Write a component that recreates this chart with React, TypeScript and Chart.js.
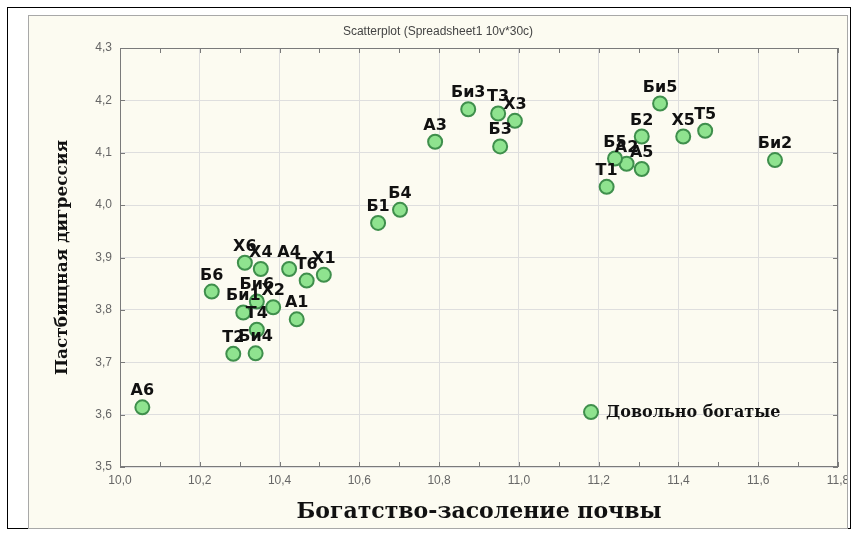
import React, { useEffect, useRef } from "react";
import { Chart, registerables } from "chart.js";

Chart.register(...registerables);

const caseLabels = [
  "А1", "А2", "А3", "А4", "А5", "А6",
  "Б1", "Б2", "Б3", "Б4", "Б5", "Б6",
  "Би1", "Би2", "Би3", "Би4", "Би5", "Би6",
  "Т1", "Т2", "Т3", "Т4", "Т5", "Т6",
  "Х1", "Х2", "Х3", "Х4", "Х5", "Х6",
];

const soilRichness = [
  10.443, 11.270, 10.790, 10.424, 11.308, 10.056,
  10.647, 11.308, 10.953, 10.702, 11.241, 10.230,
  10.309, 11.642, 10.873, 10.340, 11.354, 10.343,
  11.220, 10.284, 10.948, 10.343, 11.467, 10.468,
  10.511, 10.384, 10.990, 10.353, 11.412, 10.313,
];

const pastureDigression = [
  3.782, 4.079, 4.121, 3.878, 4.069, 3.614,
  3.966, 4.131, 4.112, 3.991, 4.089, 3.835,
  3.795, 4.086, 4.183, 3.717, 4.194, 3.816,
  4.035, 3.716, 4.175, 3.762, 4.142, 3.856,
  3.867, 3.805, 4.161, 3.878, 4.131, 3.890,
];

const seriesName = "Довольно богатые";
const chartTitle = "Scatterplot (Spreadsheet1 10v*30c)";
const xTitle = "Богатство-засоление почвы";
const yTitle = "Пастбищная дигрессия";

const POINT_FILL = "#8fe38f";
const POINT_BORDER = "#3f8f4c";
const SERIF = "'DejaVu Serif', 'Liberation Serif', serif";
const SANS = "'Liberation Sans', Arial, sans-serif";
const LABEL_FONT = "bold 16px 'DejaVu Sans', 'Liberation Sans', sans-serif";

const fmt = (v: number) => v.toFixed(1).replace(".", ",");

const framePlugin = {
  id: "frame",
  afterDatasetsDraw(chart: any) {
    const { ctx, chartArea: a, scales } = chart;
    const xs = scales.x;
    const ys = scales.y;
    ctx.save();
    ctx.strokeStyle = "#7a7a7a";
    ctx.lineWidth = 1;
    ctx.strokeRect(a.left + 0.5, a.top + 0.5, a.right - a.left - 1, a.bottom - a.top - 1);
    ctx.beginPath();
    for (let i = 0; i <= 18; i++) {
      const v = xs.min + i * 0.1;
      const px = Math.round(xs.getPixelForValue(v)) + 0.5;
      ctx.moveTo(px, a.top);
      ctx.lineTo(px, a.top + 5);
      ctx.moveTo(px, a.bottom);
      ctx.lineTo(px, a.bottom - 5);
    }
    for (let i = 0; i <= 8; i++) {
      const v = ys.min + i * 0.1;
      const py = Math.round(ys.getPixelForValue(v)) + 0.5;
      ctx.moveTo(a.left, py);
      ctx.lineTo(a.left + 5, py);
      ctx.moveTo(a.right, py);
      ctx.lineTo(a.right - 5, py);
    }
    ctx.stroke();
    ctx.restore();
  },
};

const labelPlugin = {
  id: "pointLabels",
  afterDatasetsDraw(chart: any) {
    const { ctx } = chart;
    const meta = chart.getDatasetMeta(0);
    ctx.save();
    ctx.font = LABEL_FONT;
    ctx.fillStyle = "#111";
    ctx.textAlign = "center";
    ctx.textBaseline = "alphabetic";
    meta.data.forEach((el: any, i: number) => {
      ctx.fillText(caseLabels[i], el.x, el.y - 12);
    });
    ctx.restore();
  },
};

const legendPlugin = {
  id: "innerLegend",
  afterDraw(chart: any) {
    const { ctx, chartArea: a } = chart;
    const cx = a.left + 0.656 * (a.right - a.left);
    const cy = a.top + 0.869 * (a.bottom - a.top);
    ctx.save();
    ctx.beginPath();
    ctx.arc(cx, cy, 7, 0, Math.PI * 2);
    ctx.fillStyle = POINT_FILL;
    ctx.fill();
    ctx.lineWidth = 2;
    ctx.strokeStyle = POINT_BORDER;
    ctx.stroke();
    ctx.font = "bold 16px " + SERIF;
    ctx.fillStyle = "#111";
    ctx.textAlign = "left";
    ctx.textBaseline = "middle";
    ctx.fillText(seriesName, cx + 15, cy + 1);
    ctx.restore();
  },
};

export default function App() {
  const ref = useRef<HTMLCanvasElement | null>(null);

  useEffect(() => {
    if (!ref.current) return;
    const points = soilRichness.map((x, i) => ({ x, y: pastureDigression[i] }));
    const chart = new Chart(ref.current, {
      type: "scatter",
      data: {
        datasets: [
          {
            label: seriesName,
            data: points,
            pointRadius: 7,
            pointBackgroundColor: POINT_FILL,
            pointBorderColor: POINT_BORDER,
            pointBorderWidth: 2,
          },
        ],
      },
      options: {
        animation: false,
        responsive: false,
        layout: { padding: 0 },
        plugins: {
          legend: { display: false },
          tooltip: { enabled: false },
          title: {
            display: true,
            text: chartTitle,
            color: "#444",
            font: { family: SANS, size: 12, weight: "normal", lineHeight: 1.2 },
            padding: { top: 8, bottom: 9.6 },
          },
        },
        scales: {
          x: {
            type: "linear",
            min: 10,
            max: 11.8,
            afterFit: (s: any) => {
              s.height = 61;
              s.paddingRight = 9;
              s.paddingLeft = 0;
            },
            ticks: {
              stepSize: 0.2,
              padding: 6,
              color: "#666",
              font: { family: SANS, size: 12 },
              callback: (v: any) => fmt(Number(v)),
            },
            grid: { color: "#dedede", drawTicks: false },
            border: { display: false },
            title: {
              display: true,
              text: xTitle,
              color: "#111",
              font: { family: SERIF, size: 22, weight: "bold", lineHeight: 1.2 },
              padding: { top: 0, bottom: 3 },
            },
          },
          y: {
            type: "linear",
            min: 3.5,
            max: 4.3,
            afterFit: (s: any) => {
              s.width = 91;
            },
            ticks: {
              stepSize: 0.1,
              padding: 8,
              color: "#666",
              font: { family: SANS, size: 12 },
              callback: (v: any) => fmt(Number(v)),
            },
            grid: { color: "#dedede", drawTicks: false },
            border: { display: false },
            title: {
              display: true,
              text: yTitle,
              color: "#111",
              font: { family: SERIF, size: 17, weight: "bold", lineHeight: 1.2 },
              padding: { top: 23, bottom: 0 },
            },
          },
        },
      },
      plugins: [framePlugin, labelPlugin, legendPlugin],
    });
    return () => chart.destroy();
  }, []);

  return (
    <div style={{ position: "fixed", left: 0, top: 0, width: 860, height: 535, background: "#ffffff" }}>
      <div
        style={{
          position: "absolute",
          left: 7,
          top: 7,
          width: 844,
          height: 522,
          border: "1px solid #000",
          boxSizing: "border-box",
        }}
      />
      <div
        style={{
          position: "absolute",
          left: 28,
          top: 15,
          width: 820,
          height: 514,
          background: "#fcfbf1",
          border: "1px solid #a8a8a8",
          boxSizing: "border-box",
        }}
      >
        <canvas ref={ref} width={818} height={512} style={{ display: "block" }} />
      </div>
    </div>
  );
}
